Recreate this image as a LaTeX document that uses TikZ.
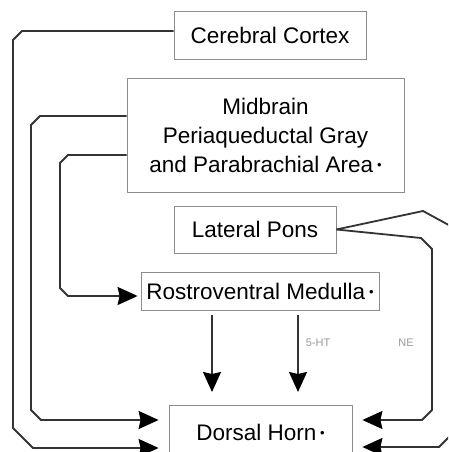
\documentclass[tikz,border=0pt]{standalone}
\usepackage{fontspec}
\setmainfont{Liberation Sans}
\usepackage{tikz}
\usetikzlibrary{arrows, arrows.meta, shapes}
\usetikzlibrary{positioning}
\newcommand{\punto}{\,\raisebox{3pt}{\fontsize{13}{13}\selectfont•}}

\begin{document}
\begin{tikzpicture}[x=1pt,y=-1pt,>={Stealth[length=20pt,width=18pt,inset=2pt,color=black]},
	main node/.style={rectangle,draw=black!45,line width=0.8pt,fill=white,inner sep=0pt,align=center,font=\fontsize{22.5}{29}\selectfont},
	conn/.style={->,draw=black!80,line width=1.8pt},
	nt label/.style={font=\fontsize{11}{11}\selectfont,text=black!40}]
	\useasboundingbox (0,0) rectangle (448,452);
	\clip (0,0) rectangle (448,452);
	% Definición de los nodos
	\node[main node, minimum width=192pt, minimum height=48pt] (1) at (270,35) {Cerebral Cortex};
	\node[main node, minimum width=277pt, minimum height=114pt] (2) at (265.5,135) {Midbrain\\Periaqueductal Gray\\and Parabrachial Area\punto};
	\node[main node, minimum width=162pt, minimum height=47pt] (3) at (255,229.5) {Lateral Pons};
	\node[main node, minimum width=238pt, minimum height=38pt] (4) at (260,291) {Rostroventral Medulla\punto};
	\node[main node, minimum width=183pt, minimum height=54pt] (5) at (260.5,432) {Dorsal Horn\punto};
	\coordinate (h1) at (212,392);
	\coordinate (h2) at (298,392);
	
	% Vías descendentes por la izquierda
	\draw[conn, shorten >=10pt] ([yshift=4pt]1.west) -- (22,31) -- (13,40) -- (13,428) -- (33,448) -- ([yshift=-16pt]5.west);
	\draw[conn, shorten >=10pt] ([yshift=19pt]2.west) -- (40,116) -- (31,125) -- (31,410) -- (41,420) -- ([yshift=12pt]5.west);
	\draw[conn, shorten >=3pt] ([yshift=-20pt]2.west) -- (68,155) -- (60,163) -- (60,288) -- (68,296) -- ([yshift=-5pt]4.west);
	
	% Bulbo hacia el asta dorsal
	\draw[conn, shorten <=5pt] (4.south -| h1) -- (h1);
	\draw[conn, shorten <=5pt] (4.south -| h2) -- (h2);
	\node[nt label] (ht) at (318,343) {5-HT};
	\node[nt label] (ne) at (406,343) {NE};
	
	% Vías desde la protuberancia lateral
	\draw[conn, shorten >=10pt] (3.east) -- (421,238) -- (432,249) -- (432,410) -- (422,420) -- ([yshift=12pt]5.east);
	\draw[conn, shorten >=10pt] (3.east) -- (423,211) -- (456,229) -- (456,430) -- (439,447) -- ([yshift=-15pt]5.east);
\end{tikzpicture}
\end{document}
